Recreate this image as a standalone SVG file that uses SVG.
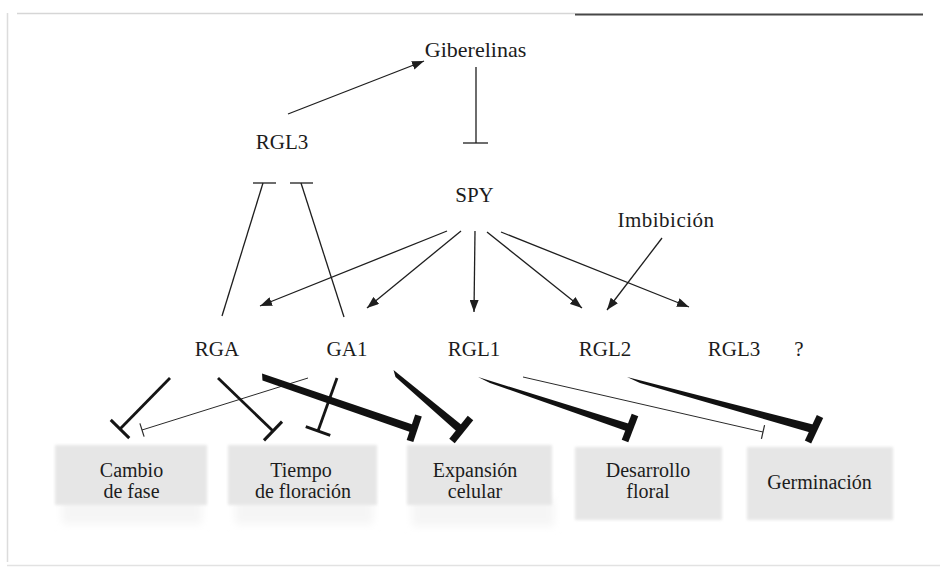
<svg xmlns="http://www.w3.org/2000/svg" width="940" height="567" viewBox="0 0 940 567">
<style>
  text { font-family: "Liberation Serif", "Times New Roman", "DejaVu Serif", serif; font-size: 21px; fill: #1c1c1c; text-anchor: middle; }
  .bx { font-size: 20px; }
  .thin { stroke: #1e1e1e; stroke-width: 1.3; fill: none; }
  .hair { stroke: #2a2a2a; stroke-width: 1; fill: none; }
  .med { stroke: #151515; stroke-width: 2.8; fill: none; }
  .thick { fill: #111; stroke: none; }
  .bar { stroke: #111; stroke-width: 7; }
  .box { fill: #e6e6e6; }
  .fade { fill: #f5f5f5; }
</style>
<defs>
  <filter id="soft" x="-5%" y="-10%" width="110%" height="120%">
    <feGaussianBlur stdDeviation="1.5"/>
  </filter>
  <filter id="softer" x="-10%" y="-30%" width="120%" height="160%">
    <feGaussianBlur stdDeviation="4"/>
  </filter>
  <marker id="arrow" markerUnits="userSpaceOnUse" markerWidth="12" markerHeight="9" viewBox="0 0 12 9" refX="12" refY="4.5" orient="auto">
    <path d="M0,0 L12,4.5 L0,9 z" fill="#1e1e1e"/>
  </marker>
  <marker id="teeHair" markerUnits="userSpaceOnUse" markerWidth="4" markerHeight="16" viewBox="-2 -8 4 16" refX="0" refY="0" orient="auto">
    <line x1="0" y1="-7" x2="0" y2="7" stroke="#2a2a2a" stroke-width="1.2"/>
  </marker>
  <marker id="teeMed" markerUnits="userSpaceOnUse" markerWidth="6" markerHeight="30" viewBox="-3 -15 6 30" refX="0" refY="0" orient="auto">
    <line x1="0" y1="-13" x2="0" y2="13" stroke="#151515" stroke-width="3"/>
  </marker>
</defs>

<rect width="940" height="567" fill="#ffffff"/>

<!-- frame -->
<g id="frame">
  <line x1="17" y1="13.5" x2="575" y2="13.5" stroke="#d6d6d6" stroke-width="1.5"/>
  <line x1="575" y1="14.5" x2="923" y2="14.5" stroke="#474747" stroke-width="2"/>
  <line x1="7.5" y1="13" x2="7.5" y2="562" stroke="#dcdcdc" stroke-width="1.5"/>
  <line x1="7" y1="565.5" x2="940" y2="565.5" stroke="#e2e2e2" stroke-width="1.5"/>
</g>

<!-- process boxes -->
<g id="box-cambio">
  <rect class="fade" x="62" y="498" width="140" height="26" filter="url(#softer)"/>
  <rect class="box" x="55" y="445" width="152" height="60" filter="url(#soft)"/>
  <text class="bx" x="131.5" y="477" font-family="Liberation Serif, serif">Cambio</text>
  <text class="bx" x="131.5" y="498" font-family="Liberation Serif, serif">de fase</text>
</g>
<g id="box-tiempo">
  <rect class="fade" x="235" y="498" width="138" height="26" filter="url(#softer)"/>
  <rect class="box" x="228" y="445" width="149" height="60" filter="url(#soft)"/>
  <text class="bx" x="301" y="477">Tiempo</text>
  <text class="bx" x="303" y="498">de floración</text>
</g>
<g id="box-expansion">
  <rect class="fade" x="412" y="498" width="142" height="28" filter="url(#softer)"/>
  <rect class="box" x="407" y="445" width="145" height="60" filter="url(#soft)"/>
  <text class="bx" x="475" y="477">Expansión</text>
  <text class="bx" x="475" y="498">celular</text>
</g>
<g id="box-desarrollo">
  <rect class="box" x="575" y="447" width="147" height="73" filter="url(#soft)"/>
  <text class="bx" x="648" y="477">Desarrollo</text>
  <text class="bx" x="648" y="498">floral</text>
</g>
<g id="box-germinacion">
  <rect class="box" x="747" y="447" width="146" height="73" filter="url(#soft)"/>
  <text class="bx" x="819.5" y="489">Germinación</text>
</g>

<!-- gene / signal nodes -->
<g id="giberelinas"><text x="475.5" y="57" style="font-size:22px">Giberelinas</text></g>
<g id="rgl3-top"><text x="282" y="149">RGL3</text></g>
<g id="spy"><text x="474.5" y="202">SPY</text></g>
<g id="imbibicion"><text x="666" y="227" letter-spacing="0.5">Imbibición</text></g>
<g id="rga"><text x="217" y="356">RGA</text></g>
<g id="ga1"><text x="347" y="356">GA1</text></g>
<g id="rgl1"><text x="474" y="356">RGL1</text></g>
<g id="rgl2"><text x="605" y="356">RGL2</text></g>
<g id="rgl3"><text x="734" y="356">RGL3</text></g>
<g id="unknown"><text x="799" y="356">?</text></g>

<!-- connectors -->
<g id="connectors">
  <line class="thin" x1="288" y1="114" x2="424" y2="61" marker-end="url(#arrow)"/>
  <line class="thin" x1="476" y1="67" x2="476" y2="143"/>
  <line class="thin" x1="463" y1="143" x2="488" y2="143"/>
  <line class="thin" x1="222" y1="316" x2="263" y2="183"/>
  <line class="thin" x1="253" y1="183" x2="276" y2="183"/>
  <line class="thin" x1="344" y1="317" x2="301" y2="183"/>
  <line class="thin" x1="290" y1="183" x2="313" y2="183"/>

  <line class="thin" x1="447" y1="231" x2="260" y2="306" marker-end="url(#arrow)"/>
  <line class="thin" x1="461" y1="231" x2="367" y2="308" marker-end="url(#arrow)"/>
  <line class="thin" x1="475" y1="231" x2="474" y2="312" marker-end="url(#arrow)"/>
  <line class="thin" x1="487" y1="232" x2="582" y2="308" marker-end="url(#arrow)"/>
  <line class="thin" x1="501" y1="232" x2="689" y2="307" marker-end="url(#arrow)"/>
  <line class="thin" x1="662" y1="238" x2="607" y2="310" marker-end="url(#arrow)"/>

  <line class="med" x1="170" y1="378" x2="120" y2="429" marker-end="url(#teeMed)"/>
  <line class="hair" x1="308" y1="378" x2="142" y2="430" marker-end="url(#teeHair)"/>
  <line class="med" x1="218" y1="378" x2="273" y2="431" marker-end="url(#teeMed)"/>
  <line class="med" x1="337" y1="378" x2="318" y2="431" marker-end="url(#teeMed)"/>
  <line class="hair" x1="523" y1="377" x2="763" y2="432" marker-end="url(#teeHair)"/>

  <!-- thick tapered inhibitions: wedge shaft + bar -->
  <path class="thick" d="M262,373.5 L262.5,380.5 L413,433 L415.5,425.5 Z"/>
  <line class="bar" x1="410" y1="441" x2="418.5" y2="415.5"/>
  <path class="thick" d="M393.5,370 L395.5,377 L458.5,433 L463.5,426.5 Z"/>
  <line class="bar" x1="452" y1="441" x2="470.5" y2="418"/>
  <path class="thick" d="M478,377 L490,383 L629,432 L631.5,424.5 Z"/>
  <line class="bar" x1="625" y1="441" x2="635" y2="415"/>
  <path class="thick" d="M627,377 L640,383 L812,433 L815,425 Z"/>
  <line class="bar" x1="808" y1="442" x2="820" y2="416.5"/>
</g>
</svg>
